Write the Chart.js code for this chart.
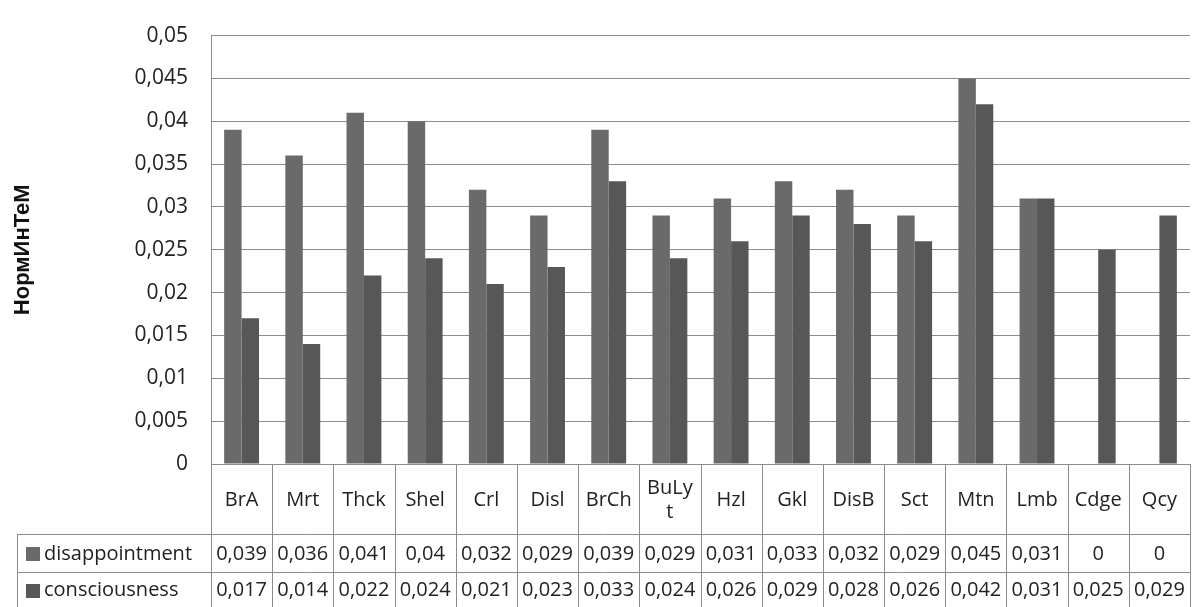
<!DOCTYPE html>
<html>
<head>
<meta charset="utf-8">
<script src="https://cdn.jsdelivr.net/npm/chart.js@4.4.1/dist/chart.umd.min.js"></script>
<style>
  html, body { margin: 0; padding: 0; background: #fff; }
  #wrap { width: 1192px; height: 607px; }
</style>
</head>
<body>
<div id="wrap"><canvas id="chart"></canvas></div>
<script>
// chart data
const categories = ['BrA', 'Mrt', 'Thck', 'Shel', 'Crl', 'Disl', 'BrCh', ['BuLy', 't'], 'Hzl', 'Gkl', 'DisB', 'Sct', 'Mtn', 'Lmb', 'Cdge', 'Qcy'];
const disappointment = [0.039, 0.036, 0.041, 0.04, 0.032, 0.029, 0.039, 0.029, 0.031, 0.033, 0.032, 0.029, 0.045, 0.031, 0, 0];
const consciousness = [0.017, 0.014, 0.022, 0.024, 0.021, 0.023, 0.033, 0.024, 0.026, 0.029, 0.028, 0.026, 0.042, 0.031, 0.025, 0.029];
const yTicks = [0, 0.005, 0.01, 0.015, 0.02, 0.025, 0.03, 0.035, 0.04, 0.045, 0.05];
const seriesNames = ['disappointment', 'consciousness'];
const seriesColors = ['#6a6a6a', '#575757'];
const yTitle = 'НормИнТеМ';

const FONT = '"Open Sans", "Noto Sans", sans-serif';
const fmt = v => String(+v.toFixed(3)).replace('.', ',');

// draws the data table under the plot
const dataTable = {
  id: 'dataTable',
  afterDraw(chart) {
    const { ctx, chartArea: a, scales: { x } } = chart;
    const n = categories.length;
    const colW = a.width / n;
    const top = a.bottom;
    const headBottom = 534;
    const row1Bottom = 572;
    const bottom = 607;
    const tableLeft = 17;

    ctx.save();
    ctx.strokeStyle = '#8c8c8c';
    ctx.lineWidth = 1;
    const line = (x1, y1, x2, y2) => {
      ctx.beginPath();
      ctx.moveTo(x1, y1);
      ctx.lineTo(x2, y2);
      ctx.stroke();
    };
    for (let i = 0; i <= n; i++) {
      const px = Math.round(a.left + i * colW) + 0.5;
      line(px, top, px, bottom);
    }
    line(tableLeft, headBottom + 0.5, a.right, headBottom + 0.5);
    line(tableLeft, row1Bottom + 0.5, a.right, row1Bottom + 0.5);
    line(tableLeft + 0.5, headBottom, tableLeft + 0.5, bottom);

    ctx.fillStyle = '#222';
    ctx.textAlign = 'center';
    ctx.textBaseline = 'middle';
    ctx.font = '20px ' + FONT;

    // header labels
    categories.forEach((c, i) => {
      const cx = x.getPixelForValue(i);
      const lines = Array.isArray(c) ? c : [c];
      const lh = 24;
      const y0 = (top + headBottom) / 2 + 1 - (lines.length - 1) * lh / 2;
      lines.forEach((t, j) => ctx.fillText(t, cx, y0 + j * lh));
    });

    // value rows
    const rows = [disappointment, consciousness];
    const rowMid = [(headBottom + row1Bottom) / 2 + 1, (row1Bottom + bottom) / 2 + 1];
    rows.forEach((vals, r) => {
      ctx.textAlign = 'center';
      vals.forEach((v, i) => {
        ctx.fillText(fmt(v), x.getPixelForValue(i), rowMid[r], colW - 3);
      });
      // legend key + name
      ctx.fillStyle = seriesColors[r];
      ctx.fillRect(26, Math.round(rowMid[r] - 7), 14, 14);
      ctx.fillStyle = '#222';
      ctx.textAlign = 'left';
      ctx.fillText(seriesNames[r], 44, rowMid[r]);
    });
    ctx.restore();
  }
};

const ctx = document.getElementById('chart').getContext('2d');
const chart = new Chart(ctx, {
  type: 'bar',
  data: {
    labels: categories,
    datasets: [
      { label: seriesNames[0], data: disappointment, backgroundColor: seriesColors[0] },
      { label: seriesNames[1], data: consciousness, backgroundColor: seriesColors[1] }
    ]
  },
  options: {
    responsive: true,
    maintainAspectRatio: false,
    animation: false,
    datasets: { bar: { categoryPercentage: 0.57, barPercentage: 1.0 } },
    layout: { padding: { top: 24, right: 2, bottom: 143, left: 0 } },
    plugins: {
      legend: { display: false },
      tooltip: { enabled: false }
    },
    scales: {
      x: { display: false },
      y: {
        min: 0,
        max: 0.05,
        afterBuildTicks: s => { s.ticks = yTicks.map(v => ({ value: v })); },
        afterFit: s => { s.width = 211; },
        border: { display: true, color: '#8c8c8c' },
        grid: { color: '#8c8c8c', drawTicks: false },
        ticks: {
          padding: 23,
          color: '#222',
          font: { family: FONT, size: 21 },
          callback: v => fmt(v)
        },
        title: {
          display: true,
          text: yTitle,
          color: '#111',
          padding: { top: 10, bottom: 0 },
          font: { family: '"Liberation Sans", Arial, sans-serif', size: 22, weight: 'bold' }
        }
      }
    }
  },
  plugins: [dataTable]
});
</script>
</body>
</html>
